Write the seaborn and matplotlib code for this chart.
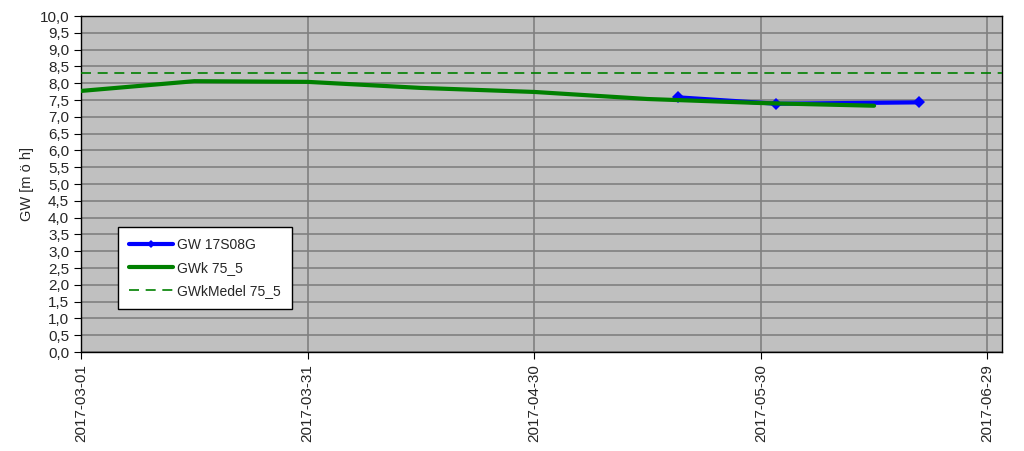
import pandas as pd
import numpy as np
import matplotlib
matplotlib.use("Agg")
import matplotlib.pyplot as plt
import matplotlib.dates as mdates
from matplotlib.ticker import MultipleLocator, FuncFormatter
import seaborn as sns

# data
gw_dates = ["2017-05-19", "2017-06-01", "2017-06-20"]
gw_values = [7.58, 7.39, 7.43]

gwk_dates = ["2017-03-01", "2017-03-16", "2017-03-31", "2017-04-15",
             "2017-04-30", "2017-05-15", "2017-05-30", "2017-06-14"]
gwk_values = [7.77, 8.06, 8.04, 7.86, 7.74, 7.53, 7.41, 7.33]

gwk_medel = 8.3
x_ticks = ["2017-03-01", "2017-03-31", "2017-04-30", "2017-05-30", "2017-06-29"]

df_gw = pd.DataFrame({"date": pd.to_datetime(gw_dates), "value": gw_values})
df_gwk = pd.DataFrame({"date": pd.to_datetime(gwk_dates), "value": gwk_values})

sns.set_style("white")
plt.rcParams['font.family'] = ['Liberation Sans', 'DejaVu Sans']

fig = plt.figure(figsize=(10.24, 4.51), dpi=100)
ax = fig.add_axes([0.079, 0.2195, 0.9, 0.745])
ax.set_facecolor("#C0C0C0")

sns.lineplot(data=df_gw, x="date", y="value", ax=ax, color="#0000FF", lw=3,
             marker="D", markersize=6, markeredgewidth=0, label="GW 17S08G", zorder=4)
sns.lineplot(data=df_gwk, x="date", y="value", ax=ax, color="#008000", lw=3,
             label="GWk 75_5", zorder=5)
ax.axhline(gwk_medel, color="#008000", lw=1.2, ls=(0, (6, 4)), label="GWkMedel 75_5", zorder=3)

ax.set_xlim(pd.Timestamp("2017-03-01"), pd.Timestamp("2017-07-01"))
ax.set_ylim(0, 10)
ax.yaxis.set_major_locator(MultipleLocator(0.5))
ax.yaxis.set_major_formatter(FuncFormatter(lambda v, p: f"{v:.1f}".replace(".", ",")))
ax.set_xticks(pd.to_datetime(x_ticks))
ax.xaxis.set_major_formatter(mdates.DateFormatter("%Y-%m-%d"))
plt.setp(ax.get_xticklabels(), rotation=90)

ax.grid(True, axis="y", color="#808080", lw=1.2)
ax.grid(True, axis="x", color="#808080", lw=1.2)
ax.set_axisbelow(True)
ax.tick_params(axis="both", labelsize=11, length=5, direction="out", color="black",
               left=True, bottom=True)
for s in ax.spines.values():
    s.set_color("black")
    s.set_linewidth(1)

ax.set_xlabel("")
ax.set_ylabel("GW [m ö h]", fontsize=10.5)

leg = ax.legend(loc="lower left", bbox_to_anchor=(0.04, 0.128), borderaxespad=0,
                frameon=True, fancybox=False, fontsize=10, handlelength=3.2,
                handletextpad=0.3, borderpad=0.8, labelspacing=0.65)
leg.get_frame().set_edgecolor("black")
leg.get_frame().set_facecolor("white")
leg.get_frame().set_alpha(1)
for h in leg.get_lines():
    h.set_markersize(4)

fig.savefig("out.png", dpi=100)
